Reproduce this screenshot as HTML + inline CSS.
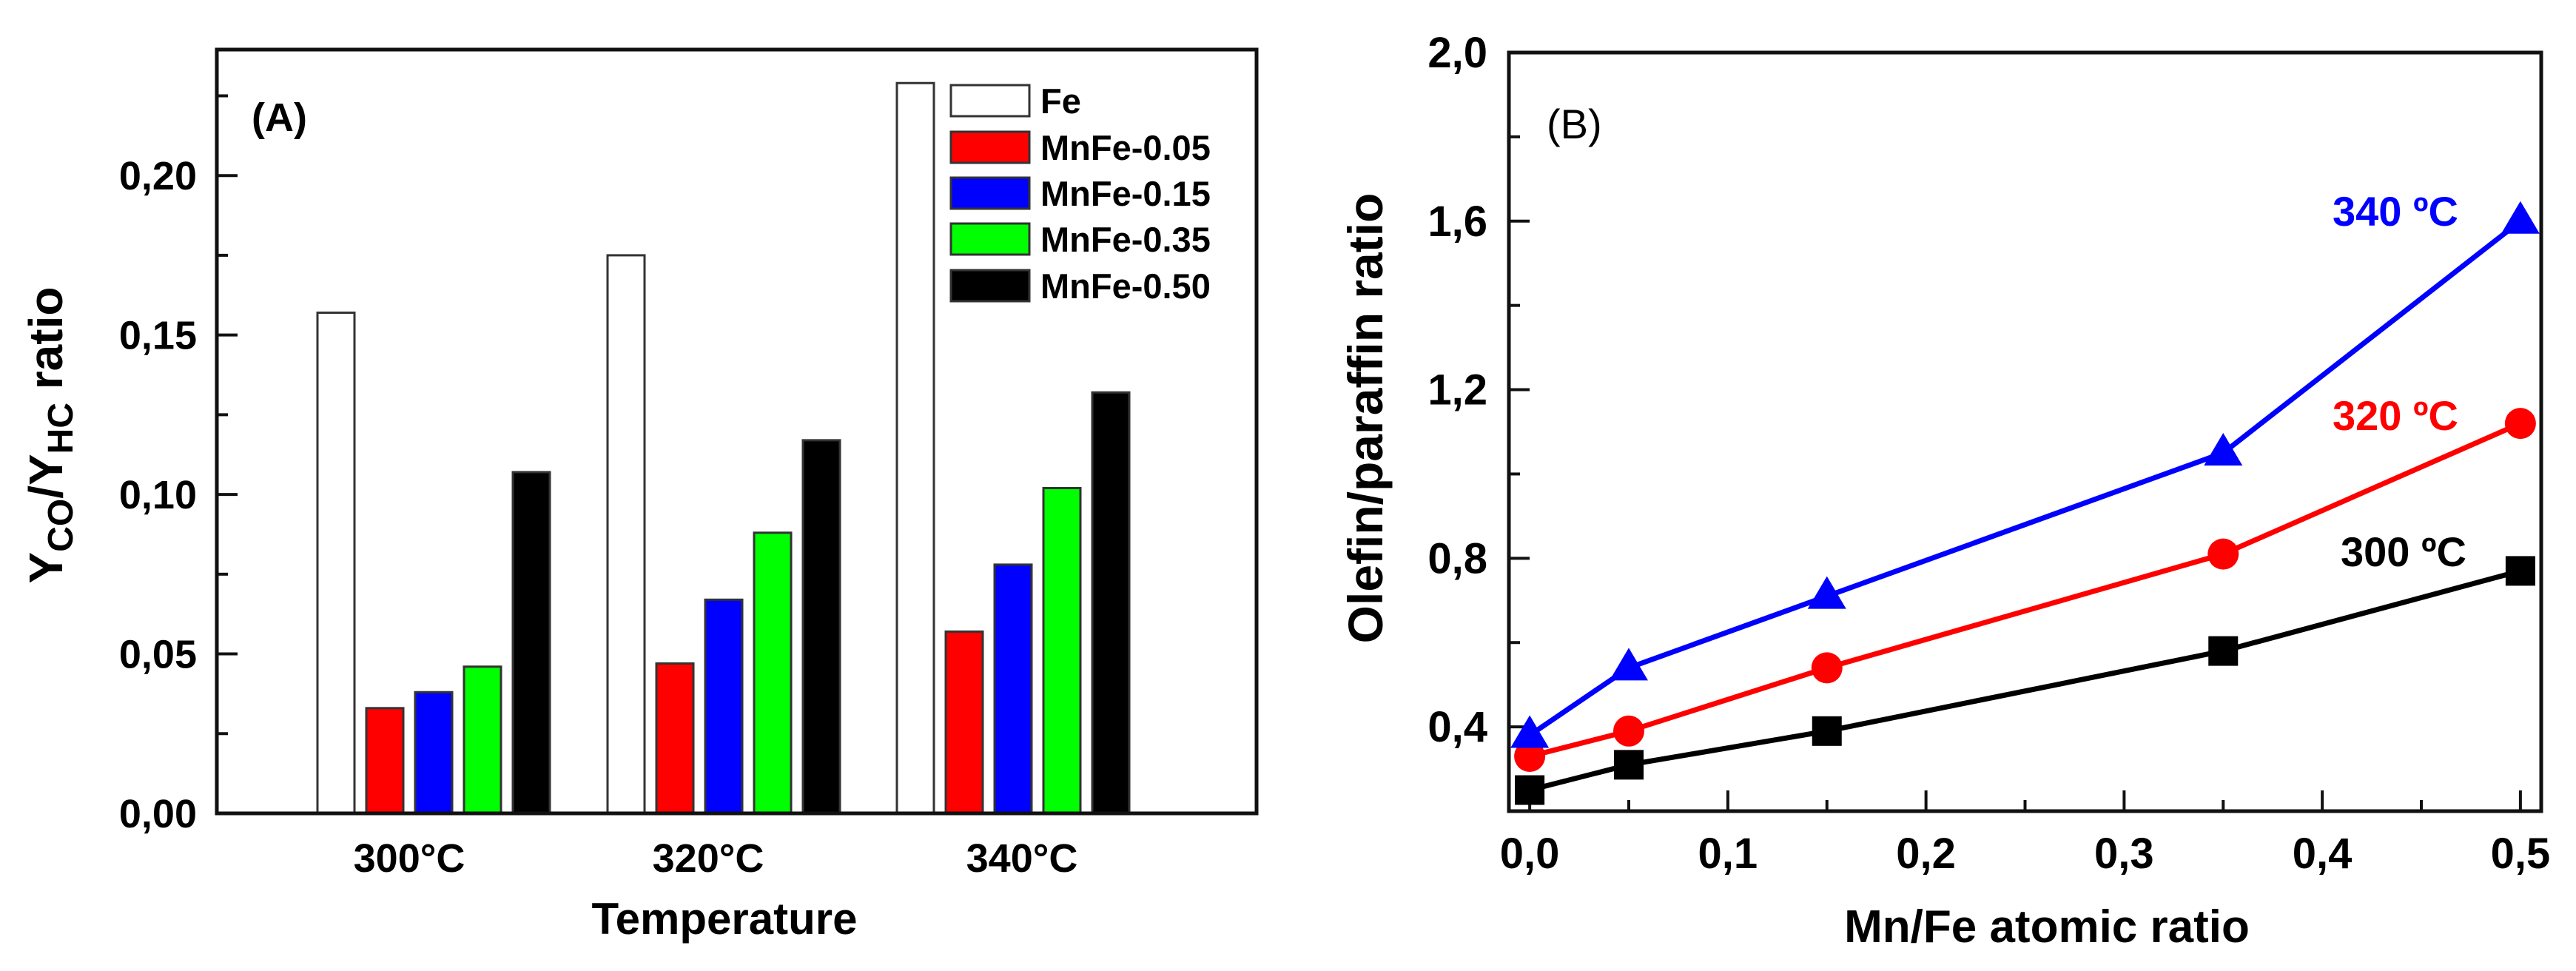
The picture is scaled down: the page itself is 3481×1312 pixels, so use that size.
<!DOCTYPE html>
<html><head><meta charset="utf-8"><style>
html,body{margin:0;padding:0;background:#fff;}
svg{display:block;font-family:"Liberation Sans",Arial,sans-serif;font-weight:bold;}
</style></head><body>
<svg id="chart" width="3481" height="1312" viewBox="0 0 3481 1312" xmlns="http://www.w3.org/2000/svg">
<g id="pa"></g>
<g id="pb"></g>
</svg>
<script>
// Panel A data
const catsA = ["300°C", "320°C", "340°C"];
const seriesA = ["Fe", "MnFe-0.05", "MnFe-0.15", "MnFe-0.35", "MnFe-0.50"];
const valsFe = [0.157, 0.175, 0.229];
const vals005 = [0.033, 0.047, 0.057];
const vals015 = [0.038, 0.067, 0.078];
const vals035 = [0.046, 0.088, 0.102];
const vals050 = [0.107, 0.117, 0.132];
const ticksA = [0, 0.05, 0.10, 0.15, 0.20];
const tickLabelsA = ["0,00", "0,05", "0,10", "0,15", "0,20"];
// Panel B data
const xB = [0, 0.05, 0.15, 0.35, 0.5];
const y300 = [0.25, 0.31, 0.39, 0.58, 0.77];
const y320 = [0.33, 0.39, 0.54, 0.81, 1.12];
const y340 = [0.38, 0.54, 0.71, 1.05, 1.60];
const ticksBy = [0.4, 0.8, 1.2, 1.6, 2.0];
const tickLabelsBy = ["0,4", "0,8", "1,2", "1,6", "2,0"];
const ticksBx = [0, 0.1, 0.2, 0.3, 0.4, 0.5];
const tickLabelsBx = ["0,0", "0,1", "0,2", "0,3", "0,4", "0,5"];

const NS = "http://www.w3.org/2000/svg";
function mk(parent, tag, attrs, text) {
  const e = document.createElementNS(NS, tag);
  for (const k in attrs) e.setAttribute(k, attrs[k]);
  if (text !== undefined) e.textContent = text;
  parent.appendChild(e);
  return e;
}

// ---------- Panel A ----------
const pa = document.getElementById("pa");
const A = {l: 293, r: 1698, t: 67, b: 1099, ymin: 0, ymax: 0.2395};
const yA = v => A.b - (v - A.ymin) / (A.ymax - A.ymin) * (A.b - A.t);
const groupStart = [429, 821, 1212];
const barPitch = 66, barW = 50;
const colorsA = ["#ffffff", "#ff0000", "#0000ff", "#00ff00", "#000000"];
const allA = [valsFe, vals005, vals015, vals035, vals050];
const catCenters = [553, 957, 1381];
const xBar = (ci, si) => groupStart[ci] + si * barPitch;

for (let s = 0; s < allA.length; s++) {
  for (let c = 0; c < catsA.length; c++) {
    const v = allA[s][c];
    const r = mk(pa, "rect", {x: xBar(c, s), y: yA(v), width: barW, height: yA(0) - yA(v), fill: colorsA[s], stroke: "#333", "stroke-width": 3});
    
    
  }
}
const fa = mk(pa, "rect", {x: A.l, y: A.t, width: A.r - A.l, height: A.b - A.t, fill: "none", stroke: "#111", "stroke-width": 5});


for (let i = 0; i < ticksA.length; i++) {
  const y = yA(ticksA[i]);
  const t = mk(pa, "line", {x1: A.l, x2: A.l + 28, y1: y, y2: y, stroke: "#111", "stroke-width": 4});
  
  
  const lb = mk(pa, "text", {x: 266, y: y + 19, "text-anchor": "end", "font-size": 54}, tickLabelsA[i]);
  
  
  const mv = ticksA[i] + 0.025;
  if (mv < A.ymax) {
    const ym = yA(mv);
    const m = mk(pa, "line", {x1: A.l, x2: A.l + 15, y1: ym, y2: ym, stroke: "#111", "stroke-width": 4});
    
    
  }
}
for (let c = 0; c < catsA.length; c++) {
  const lb = mk(pa, "text", {x: catCenters[c], y: 1178, "text-anchor": "middle", "font-size": 54}, catsA[c]);
  
  
}
const xta = mk(pa, "text", {x: 979, y: 1262, "text-anchor": "middle", "font-size": 60}, "Temperature");


const yta = mk(pa, "text", {transform: "translate(84,588) rotate(-90)", "text-anchor": "middle", "font-size": 64});


yta.innerHTML = 'Y<tspan font-size="48" dy="14">CO</tspan><tspan dy="-14">/Y</tspan><tspan font-size="48" dy="14">HC</tspan><tspan dy="-14"> ratio</tspan>';
const la = mk(pa, "text", {x: 340, y: 177, "font-size": 54}, "(A)");


const legY = [136, 199, 261, 323, 386];
for (let s = 0; s < seriesA.length; s++) {
  const g = mk(pa, "g", {});
  
  
  mk(g, "rect", {x: 1285, y: legY[s] - 21, width: 106, height: 42, fill: colorsA[s], stroke: "#333", "stroke-width": 3});
  mk(g, "text", {x: 1406, y: legY[s] + 17, "font-size": 47}, seriesA[s]);
}

// ---------- Panel B ----------
const pb = document.getElementById("pb");
const B = {l: 2039, r: 3434, t: 71, b: 1096, xmin: -0.0105, xmax: 0.5105, ymin: 0.2, ymax: 2.0};
const xS = v => B.l + (v - B.xmin) / (B.xmax - B.xmin) * (B.r - B.l);
const yS = v => B.b - (v - B.ymin) / (B.ymax - B.ymin) * (B.b - B.t);

const fb = mk(pb, "rect", {x: B.l, y: B.t, width: B.r - B.l, height: B.b - B.t, fill: "none", stroke: "#111", "stroke-width": 5});


for (let i = 0; i < ticksBy.length; i++) {
  const y = yS(ticksBy[i]);
  const t = mk(pb, "line", {x1: B.l, x2: B.l + 28, y1: y, y2: y, stroke: "#111", "stroke-width": 4});
  
  
  const lb = mk(pb, "text", {x: 2010, y: y + 20, "text-anchor": "end", "font-size": 58}, tickLabelsBy[i]);
  
  
  const ym = yS(ticksBy[i] - 0.2);
  const m = mk(pb, "line", {x1: B.l, x2: B.l + 15, y1: ym, y2: ym, stroke: "#111", "stroke-width": 4});
  
  
}
for (let i = 0; i < ticksBx.length; i++) {
  const x = xS(ticksBx[i]);
  const t = mk(pb, "line", {x1: x, x2: x, y1: B.b, y2: B.b - 28, stroke: "#111", "stroke-width": 4});
  
  
  const lb = mk(pb, "text", {x: x, y: 1173, "text-anchor": "middle", "font-size": 58}, tickLabelsBx[i]);
  
  
  if (i < ticksBx.length - 1) {
    const xm = xS(ticksBx[i] + 0.05);
    const m = mk(pb, "line", {x1: xm, x2: xm, y1: B.b, y2: B.b - 15, stroke: "#111", "stroke-width": 4});
    
    
  }
}
function series(ys, color, marker, name) {
  const g = mk(pb, "g", {});
  
  
  const pts = xB.map((x, i) => xS(x) + "," + yS(ys[i])).join(" ");
  mk(g, "polyline", {points: pts, fill: "none", stroke: color, "stroke-width": 7});
  for (let i = 0; i < xB.length; i++) {
    const cx = xS(xB[i]), cy = yS(ys[i]);
    let m;
    if (marker === "square") m = mk(g, "rect", {x: cx - 20, y: cy - 20, width: 40, height: 40, fill: color});
    else if (marker === "circle") m = mk(g, "circle", {cx: cx, cy: cy, r: 21, fill: color});
    else m = mk(g, "polygon", {points: `${cx},${cy - 27} ${cx - 26},${cy + 17} ${cx + 26},${cy + 17}`, fill: color});
    
    
  }
}
series(y300, "#000000", "square", "300c");
series(y320, "#ff0000", "circle", "320c");
series(y340, "#0000ff", "triangle", "340c");

const l340 = mk(pb, "text", {x: 3152, y: 305, "font-size": 56, fill: "#0000ff"}, "340 ºC");


const l320 = mk(pb, "text", {x: 3152, y: 581, "font-size": 56, fill: "#ff0000"}, "320 ºC");


const l300 = mk(pb, "text", {x: 3163, y: 765, "font-size": 56, fill: "#000000"}, "300 ºC");


const lb2 = mk(pb, "text", {x: 2090, y: 187, "font-size": 56, "font-weight": "normal"}, "(B)");


const xtb = mk(pb, "text", {x: 2766, y: 1273, "text-anchor": "middle", "font-size": 62}, "Mn/Fe atomic ratio");


const ytb = mk(pb, "text", {transform: "translate(1868,565) rotate(-90)", "text-anchor": "middle", "font-size": 66}, "Olefin/paraffin ratio");


</script>
</body></html>
